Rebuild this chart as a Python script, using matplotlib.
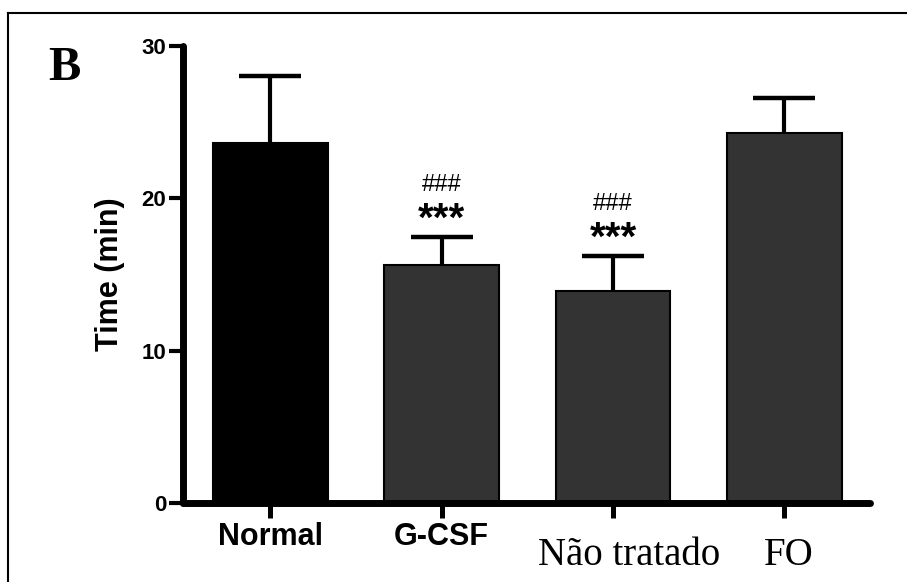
import numpy as np
import matplotlib
matplotlib.use('Agg')
import matplotlib.pyplot as plt
import matplotlib.transforms as mtransforms
from matplotlib.lines import Line2D

#%% data
groups = ['Normal', 'G-CSF', 'Não tratado', 'FO']
means = [23.6, 15.6, 13.9, 24.3]
sem = [4.4, 1.85, 2.3, 2.3]
colors = ['#000000', '#333333', '#333333', '#333333']
stars = ['', '***', '***', '']
hashes = ['', '###', '###', '']

#%%
fig = plt.figure(figsize=(9.07, 5.82), dpi=100)
ax = fig.add_axes([183/907, 79/582, 687/907, 457/582])

x = np.arange(len(groups))
ax.bar(x, means, width=0.67, color=colors, edgecolor='black', linewidth=1.5, zorder=2)
eb = ax.errorbar(x, means, yerr=[np.zeros(len(sem)), sem], fmt='none', ecolor='black',
                 elinewidth=3, capsize=22, capthick=3.2, zorder=3)
# only the upper cap is wanted
for cl in eb[1]:
    if np.allclose(cl.get_ydata(), means):
        cl.set_visible(False)

ax.set_xlim(-0.51, 3.50)
ax.set_ylim(0, 30)
ax.set_yticks([0, 10, 20, 30])
ax.set_yticklabels(['0', '10', '20', '30'], fontsize=16, fontweight='bold',
                   family='Liberation Sans')
ax.set_xticks(x)
ax.set_xticklabels([groups[0], groups[1], '', ''], fontsize=22, fontweight='bold',
                   family='Liberation Sans')

for s in ['top', 'right']:
    ax.spines[s].set_visible(False)
for s in ['left', 'bottom']:
    ax.spines[s].set_linewidth(5)
    ax.spines[s].set_capstyle('round')
ax.tick_params(axis='y', length=10, width=3, pad=2)
ax.tick_params(axis='x', length=11, width=3.6, pad=3)

ax.set_ylabel('Time (min)', fontsize=22, fontweight='bold', family='Liberation Sans',
              labelpad=12)

# the last two labels were typed in a serif face, set a bit lower
for i, dx in [(2, 11.5), (3, 3.5)]:
    tr = mtransforms.offset_copy(ax.get_xaxis_transform(), fig=fig, x=dx, y=0, units='points')
    ax.text(x[i], -0.1357, groups[i], transform=tr, ha='center', va='baseline',
            fontsize=28, family='Liberation Serif')

# significance marks
for i in range(len(groups)):
    if stars[i]:
        ax.annotate(stars[i], (x[i], means[i] + sem[i]), xytext=(0, -1), textcoords='offset points',
                    ha='center', va='bottom', fontsize=29, fontweight='bold', family='Liberation Sans')
        ax.annotate(hashes[i], (x[i], means[i] + sem[i]), xytext=(0, 30), textcoords='offset points',
                    ha='center', va='bottom', fontsize=17, family='Liberation Sans')

fig.text(48/907, 1 - 80/582, 'B', fontsize=35, fontweight='bold', family='Liberation Serif',
         ha='left', va='baseline')

# frame round the panel (only top and left edge show)
fig.add_artist(Line2D([8/907, 8/907], [0, 1 - 13/582], color='black', lw=1.5))
fig.add_artist(Line2D([8/907, 1], [1 - 13/582, 1 - 13/582], color='black', lw=1.5))

fig.savefig('out.png', dpi=100)
